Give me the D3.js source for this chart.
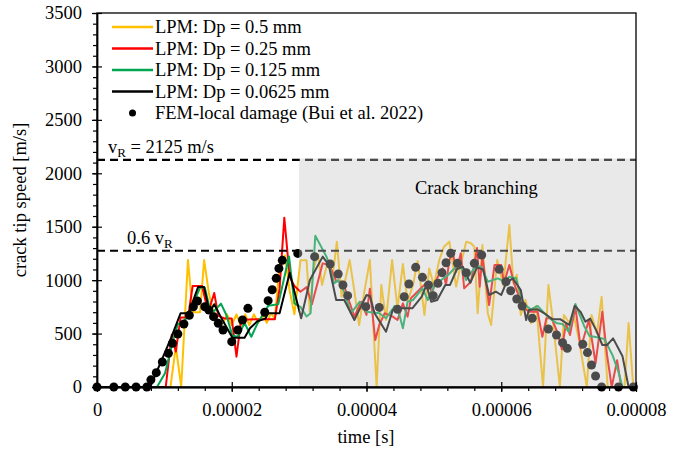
<!DOCTYPE html>
<html>
<head>
<meta charset="utf-8">
<script src="https://cdn.jsdelivr.net/npm/d3@7"></script>
<style>
  html, body { margin: 0; padding: 0; background: #fff; }
  svg { display: block; }
  text { font-family: "Liberation Serif", "Times New Roman", serif; fill: #000; }
</style>
</head>
<body>
<svg id="chart" width="678" height="452"></svg>
<script>
// time in microseconds, crack tip speed in m/s
const lpm05 = [[0,0],[10.9,0],[11.7,380],[12.5,0],[13.5,1188],[14.2,700],[15.3,700],[15.9,1188],[16.6,880],[17.2,720],[18.0,620],[18.7,596],[19.3,680],[20.0,580],[20.7,680],[21.3,580],[22.0,680],[22.6,580],[23.3,680],[23.9,600],[24.6,680],[25.2,600],[25.8,690],[26.4,640],[27.1,1150],[27.9,1230],[28.6,900],[29.3,680],[30.2,1185],[31.1,1185],[31.6,700],[32.1,1100],[32.8,1240],[33.4,955],[34.3,1188],[34.9,1000],[35.6,1360],[36.3,845],[37.5,1188],[38.2,900],[38.9,580],[39.7,900],[40.5,1188],[41.5,0],[42.2,955],[42.9,627],[43.8,1188],[44.6,736],[45.4,1150],[46.1,800],[46.9,955],[47.6,1180],[48.6,674],[49.3,1110],[50.0,950],[50.8,1188],[51.5,1313],[52.3,1360],[53.3,939],[54.0,1150],[54.8,1360],[55.5,1345],[56.0,1313],[56.5,690],[57.2,1329],[58.0,690],[58.5,580],[59.4,1188],[60.3,950],[61.2,1516],[61.8,970],[62.3,1050],[62.9,674],[63.6,814],[64.4,596],[65.2,760],[66.2,0],[67.0,955],[67.7,600],[68.7,0],[69.3,674],[70.1,600],[70.7,690],[71.6,420],[72.7,0],[73.4,674],[74.2,500],[74.9,845],[75.8,0],[78.3,0],[78.9,600],[79.6,0],[80,0]];

const lpm025 = [[0,0],[10.2,0],[11.1,490],[11.7,330],[12.4,650],[13.5,650],[14.2,945],[15.6,945],[16.5,700],[17.4,880],[18.0,665],[19.0,640],[20.0,640],[20.7,284],[21.4,630],[23.9,635],[26.4,635],[27.1,920],[27.8,1585],[28.6,1030],[29.3,945],[30.2,892],[31.1,935],[31.9,775],[33.5,1157],[34.5,1142],[35.5,990],[36.5,985],[37.2,845],[38.2,658],[39.2,798],[40.0,674],[40.5,920],[41.3,440],[41.9,580],[42.7,690],[43.9,658],[44.6,627],[45.4,783],[46.1,658],[46.6,830],[48.3,939],[49.1,985],[49.7,880],[50.6,1032],[51.3,1110],[51.8,955],[52.3,1188],[52.8,1266],[53.3,1079],[54.0,1251],[54.5,923],[55.5,985],[56.0,1142],[56.4,1300],[56.8,939],[57.2,1220],[58.2,767],[59.0,1142],[60.0,1142],[60.4,970],[61.2,1142],[61.9,970],[63.2,751],[64.1,705],[65.4,705],[66.1,470],[66.7,643],[67.5,643],[68.3,517],[69.0,352],[69.6,596],[70.2,487],[71.0,751],[71.8,362],[73.0,627],[74.0,222],[75.0,705],[75.7,300],[76.4,0],[77.2,250],[77.8,0],[80,0]];

const lpm0125 = [[0,0],[8.9,0],[10.1,128],[11.3,440],[12.0,590],[12.8,596],[13.8,705],[15.3,930],[16.0,930],[16.8,720],[17.2,700],[18.4,780],[19.2,674],[20.1,480],[20.9,470],[21.9,600],[22.9,470],[23.9,605],[24.8,690],[25.4,760],[26.9,775],[28.5,1222],[29.3,783],[30.2,750],[31.1,660],[31.7,690],[32.4,1415],[34.1,1215],[35.2,970],[35.8,1000],[36.7,890],[37.7,690],[39.0,798],[40.0,705],[41.9,690],[42.9,643],[44.2,760],[44.7,720],[45.4,549],[46.1,798],[46.9,814],[48.3,923],[49.1,814],[50.1,955],[51.1,1001],[52.1,1048],[53.3,1126],[54.0,1126],[54.8,1001],[56.3,1140],[57.1,1120],[58.0,985],[59.5,1017],[60.3,990],[61.2,1032],[62.2,1017],[63.2,783],[64.4,727],[65.4,758],[66.4,690],[67.5,627],[68.3,596],[69.1,590],[70.0,517],[71.0,777],[72.3,571],[73.1,477],[74.0,468],[75.3,450],[76.5,300],[77.4,140],[78.0,0],[80,0]];

const lpm00625 = [[0,0],[7.9,0],[11.0,460],[12.4,690],[13.6,690],[15.0,935],[15.9,935],[16.7,700],[17.4,775],[18.5,640],[20.1,460],[21.9,460],[22.7,549],[23.8,615],[25.0,640],[25.4,690],[27.1,690],[28.6,1070],[30.3,643],[31.6,1001],[33.5,1220],[34.4,1142],[35.5,814],[36.7,814],[38.2,627],[40.0,861],[40.5,850],[41.2,690],[42.9,517],[43.9,720],[44.9,736],[46.8,736],[48.2,845],[48.9,955],[49.6,798],[50.5,814],[51.7,955],[52.4,955],[53.4,1100],[54.3,1126],[55.4,975],[56.4,1120],[57.3,1100],[58.2,861],[59.2,892],[60.0,861],[60.7,970],[61.7,1017],[62.9,908],[63.7,627],[64.1,720],[65.4,727],[66.4,690],[67.6,633],[68.8,633],[70.1,580],[70.9,760],[71.8,700],[72.5,611],[73.2,640],[74.1,530],[75.0,393],[75.7,393],[76.6,455],[78.0,287],[78.9,0],[80,0]];

const femLocal = [[0,0],[2.5,0],[4.2,0],[5.8,0],[7.4,0],[8.0,67],[8.8,134],[9.7,234],[10.6,315],[11.2,409],[12.0,496],[12.9,590],[13.7,671],[14.3,751],[14.9,805],[16.0,751],[16.6,720],[17.3,658],[18.0,596],[18.7,533],[20.0,424],[20.9,533],[21.6,627],[22.4,736],[24.9,699],[25.4,808],[26.0,910],[26.6,1017],[27.0,1110],[27.5,1185],[29.8,1250],[32.3,1220],[34.6,1151],[35.8,1057],[36.5,955],[37.2,855],[39.9,752],[41.9,745],[44.6,727],[45.6,845],[46.3,964],[47.3,1120],[48.3,1026],[49.2,955],[49.9,855],[50.6,970],[51.2,1070],[51.8,1163],[52.5,1251],[53.5,1157],[54.8,1070],[56.0,1157],[57.1,1235],[59.7,1101],[60.7,985],[61.4,901],[62.3,823],[63.1,758],[64.6,643],[67.0,543],[68.2,487],[69.1,415],[69.8,362],[72.1,400],[72.8,322],[73.4,206],[74.0,103],[74.9,0],[77.4,0],[79.6,0]];

const seriesNames = ["LPM: Dp = 0.5 mm", "LPM: Dp = 0.25 mm", "LPM: Dp = 0.125 mm", "LPM: Dp = 0.0625 mm"];
const seriesColors = ["#FFC000", "#FF0000", "#00A650", "#000000"];
const dotName = "FEM-local damage (Bui et al. 2022)";

const xTickValues = [0, 20, 40, 60, 80];
const xTickLabels = ["0", "0.00002", "0.00004", "0.00006", "0.00008"];
const yTickValues = [0, 500, 1000, 1500, 2000, 2500, 3000, 3500];

const vR = 2125;              // Rayleigh wave speed, m/s
const vRFrac = 0.6 * vR;      // 0.6 vR
const branchStart = 30;       // start of crack branching, microseconds

const svg = d3.select("#chart");
const x = d3.scaleLinear().domain([0, 80]).range([97, 636]);
const y = d3.scaleLinear().domain([0, 3500]).range([387, 13]);
const FS = "18.5px";

const line = d3.line().x(d => x(d[0])).y(d => y(d[1]));

// simulation curves
const allSeries = [lpm05, lpm025, lpm0125, lpm00625];
allSeries.forEach((s, i) => {
  svg.append("path").datum(s)
    .attr("d", line)
    .attr("fill", "none")
    .attr("stroke", seriesColors[i])
    .attr("stroke-width", 2)
    .attr("stroke-linejoin", "round");
});

// FEM reference points
svg.append("g").selectAll("circle").data(femLocal).join("circle")
  .attr("cx", d => x(d[0])).attr("cy", d => y(d[1])).attr("r", 4.5)
  .attr("fill", "#000");

// reference speed lines
[vR, vRFrac].forEach(v => {
  svg.append("line")
    .attr("x1", x(0)).attr("x2", x(80))
    .attr("y1", y(v)).attr("y2", y(v))
    .attr("stroke", "#000").attr("stroke-width", 2.2)
    .attr("stroke-dasharray", "8,5");
});

// shaded crack branching zone
svg.append("rect")
  .attr("x", x(branchStart)).attr("y", y(vR) - 1.5)
  .attr("width", x(80) - x(branchStart)).attr("height", y(0) - y(vR) + 1.5)
  .attr("fill", "rgb(197,197,197)").attr("fill-opacity", 0.38);

// frame
svg.append("rect")
  .attr("x", x(0)).attr("y", y(3500))
  .attr("width", x(80) - x(0)).attr("height", y(0) - y(3500))
  .attr("fill", "none").attr("stroke", "#000").attr("stroke-width", 1.3);

// x axis: minor ticks outward, major ticks crossing
const xAxisG = svg.append("g").attr("transform", `translate(0,${y(0)})`);
xAxisG.append("g").call(d3.axisBottom(x).tickValues(d3.range(0, 80.1, 4)).tickSize(4).tickSizeOuter(0).tickFormat(""));
xAxisG.append("g").call(d3.axisBottom(x).tickValues(xTickValues).tickSize(5).tickSizeOuter(0)
  .tickFormat((d, i) => xTickLabels[i]).tickPadding(11));
xAxisG.append("g").call(d3.axisBottom(x).tickValues(xTickValues).tickSize(-5).tickSizeOuter(0).tickFormat(""));
xAxisG.selectAll("path.domain").attr("stroke", "#000").attr("stroke-width", 1.3);
xAxisG.selectAll("line").attr("stroke", "#000").attr("stroke-width", 1.2);
xAxisG.selectAll("text").style("font-size", FS).attr("fill", "#000")
  .style("font-family", '"Liberation Serif", "Times New Roman", serif');

// y axis
const yAxisG = svg.append("g").attr("transform", `translate(${x(0)},0)`);
yAxisG.append("g").call(d3.axisLeft(y).tickValues(d3.range(0, 3501, 100)).tickSize(4).tickSizeOuter(0).tickFormat(""));
yAxisG.append("g").call(d3.axisLeft(y).tickValues(yTickValues).tickSize(5).tickSizeOuter(0)
  .tickFormat(d3.format("d")).tickPadding(10));
yAxisG.append("g").call(d3.axisLeft(y).tickValues(yTickValues).tickSize(-5).tickSizeOuter(0).tickFormat(""));
yAxisG.selectAll("path.domain").attr("stroke", "#000").attr("stroke-width", 1.3);
yAxisG.selectAll("line").attr("stroke", "#000").attr("stroke-width", 1.2);
yAxisG.selectAll("text").style("font-size", FS).attr("fill", "#000")
  .style("font-family", '"Liberation Serif", "Times New Roman", serif');

// axis titles
svg.append("text").attr("transform", "translate(26,200) rotate(-90)")
  .attr("text-anchor", "middle").style("font-size", FS).text("crack tip speed [m/s]");
svg.append("text").attr("x", 366).attr("y", 443)
  .attr("text-anchor", "middle").style("font-size", FS).text("time [s]");

// annotations
const vrLabel = svg.append("text").attr("x", 108).attr("y", 153).style("font-size", FS);
vrLabel.append("tspan").text("v");
vrLabel.append("tspan").attr("dy", 4).style("font-size", "13px").text("R");
vrLabel.append("tspan").attr("dy", -4).text(` = ${vR} m/s`);

const fracLabel = svg.append("text").attr("x", 127).attr("y", 244).style("font-size", FS);
fracLabel.append("tspan").text("0.6 v");
fracLabel.append("tspan").attr("dy", 4).style("font-size", "13px").text("R");

svg.append("text").attr("x", 415).attr("y", 194).style("font-size", FS).text("Crack branching");

// legend
const legendRows = [27, 48.5, 70, 91.5, 113];
seriesNames.forEach((name, i) => {
  svg.append("line").attr("x1", 112).attr("x2", 153)
    .attr("y1", legendRows[i]).attr("y2", legendRows[i])
    .attr("stroke", seriesColors[i]).attr("stroke-width", 2.5);
  svg.append("text").attr("x", 155).attr("y", legendRows[i] + 6).style("font-size", FS).text(name);
});
svg.append("circle").attr("cx", 132.5).attr("cy", legendRows[4]).attr("r", 3.5).attr("fill", "#000");
svg.append("text").attr("x", 155).attr("y", legendRows[4] + 6).style("font-size", FS).text(dotName);
</script>
</body>
</html>
